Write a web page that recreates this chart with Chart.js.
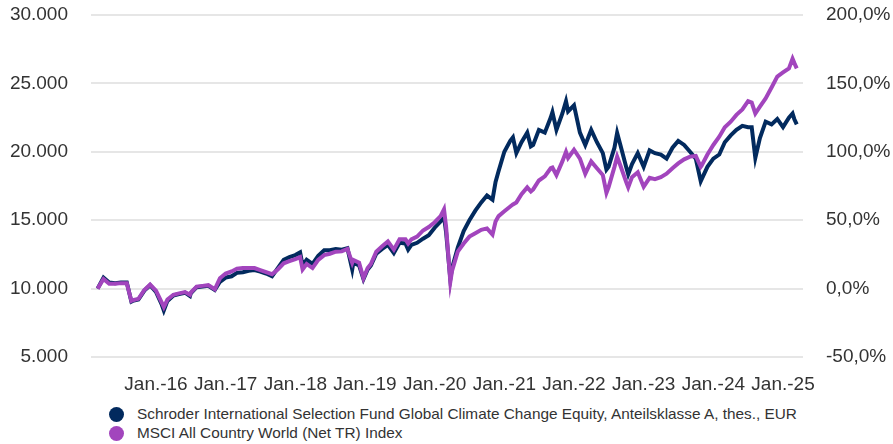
<!DOCTYPE html>
<html>
<head>
<meta charset="utf-8">
<script src="https://cdn.jsdelivr.net/npm/chart.js@4.4.1/dist/chart.umd.min.js"></script>
<style>
    body { margin: 0; background: #fff; font-family: 'Liberation Sans', Arial, sans-serif; }
    .wrap { position: relative; width: 893px; height: 444px; }
    .chart-box { position: absolute; left: 0; top: 0; width: 893px; height: 400px; }
    .legend { position: absolute; left: 109px; top: 404px; font-size: 15.35px; color: #333; }
    .legend div { height: 19px; line-height: 19px; white-space: nowrap; }
    .legend span.dot { display: inline-block; width: 15px; height: 15px; border-radius: 50%; vertical-align: -3px; margin-right: 13px; }
</style>
</head>
<body>
<div class="wrap">
    <div class="chart-box"><canvas id="perfChart"></canvas></div>
    <div class="legend">
        <div><span class="dot" style="background:#022a5e"></span>Schroder International Selection Fund Global Climate Change Equity, Anteilsklasse A, thes., EUR</div>
        <div><span class="dot" style="background:#a245bd"></span>MSCI All Country World (Net TR) Index</div>
    </div>
</div>
<script>
const dates = [
    '2015-03-01','2015-04-01','2015-05-01','2015-06-01','2015-07-01','2015-08-01','2015-08-25','2015-09-01','2015-10-01','2015-11-01','2015-12-01',
    '2016-01-01','2016-02-01','2016-02-11','2016-03-01','2016-04-01','2016-05-01','2016-06-01','2016-06-27','2016-07-01','2016-08-01','2016-09-01','2016-10-01','2016-11-04','2016-12-01',
    '2017-01-01','2017-02-01','2017-03-01','2017-04-01','2017-05-01','2017-06-01','2017-07-01','2017-08-01','2017-09-01','2017-10-01','2017-11-01','2017-12-01',
    '2018-01-01','2018-01-26','2018-02-08','2018-03-01','2018-04-01','2018-05-01','2018-06-01','2018-07-01','2018-08-01','2018-09-01','2018-10-01','2018-10-26','2018-11-01','2018-12-01','2018-12-24',
    '2019-01-15','2019-02-01','2019-03-01','2019-04-01','2019-05-01','2019-06-01','2019-07-01','2019-08-01','2019-08-15','2019-09-01','2019-10-01','2019-11-01','2019-12-01',
    '2020-01-01','2020-02-01','2020-02-19','2020-03-01','2020-03-23','2020-04-01','2020-05-01','2020-06-01','2020-07-01','2020-08-01','2020-09-01','2020-10-01','2020-10-30','2020-11-15','2020-12-01',
    '2021-01-01','2021-02-01','2021-02-15','2021-03-05','2021-04-01','2021-05-01','2021-05-20','2021-06-01','2021-07-01','2021-08-01','2021-09-01','2021-09-10','2021-10-01','2021-11-01','2021-11-20','2021-12-01',
    '2022-01-01','2022-02-01','2022-03-01','2022-04-01','2022-05-01','2022-06-01','2022-06-20','2022-07-01','2022-08-01','2022-08-15','2022-09-01','2022-10-01','2022-10-12','2022-11-01','2022-12-01',
    '2023-01-01','2023-02-01','2023-03-01','2023-04-01','2023-05-01','2023-06-01','2023-07-01','2023-08-01','2023-09-01','2023-10-01','2023-10-27','2023-11-01','2023-12-01',
    '2024-01-01','2024-02-01','2024-03-01','2024-04-01','2024-05-01','2024-06-01','2024-07-01','2024-07-20','2024-08-08','2024-09-01','2024-10-01','2024-11-01','2024-12-01',
    '2025-01-01','2025-02-01','2025-02-20','2025-03-01','2025-03-14'
];

// Schroder ISF Global Climate Change Equity A acc EUR (growth of 10.000)
const fundValues = [
    10000,10800,10450,10400,10450,10450,9050,9100,9200,9850,10250,
    9750,8800,8400,9100,9500,9600,9700,9450,9650,10100,10150,10200,9900,10500,
    10800,10900,11150,11200,11300,11350,11250,11100,10900,11500,12100,12300,
    12450,12650,11700,12100,11800,12400,12800,12800,12900,12850,12950,11400,11900,11700,10700,
    11400,11700,12550,12900,13200,12600,13350,13300,12850,13200,13350,13650,13900,
    14450,14900,15250,14100,10700,11500,13000,14200,15000,15700,16300,16800,16500,17800,18600,
    20000,20800,21050,19900,20700,21400,20400,20500,21600,21400,22500,22900,21600,22800,23700,22950,
    23400,21400,20500,21600,20700,19900,18700,18900,20300,21380,20500,18900,18350,19100,19900,
    18900,20100,19900,19800,19500,20300,20800,20500,20000,19500,17850,18000,18900,
    19500,19800,20700,21200,21600,21900,21800,21800,19550,21000,22200,22000,22400,
    21800,22500,22800,22400,22000
];

// MSCI All Country World (Net TR) Index
const indexValues = [
    10000,10700,10350,10350,10400,10400,9100,9150,9250,9900,10300,
    9850,8950,8650,9200,9550,9650,9750,9550,9700,10150,10200,10250,9950,10750,
    11100,11250,11450,11500,11500,11500,11350,11200,11050,11400,11850,12000,
    12150,12300,11400,11800,11500,12100,12450,12550,12700,12720,12900,11880,12100,11900,10760,
    11500,11800,12700,13100,13450,12850,13600,13600,13300,13600,13800,14250,14500,
    14850,15300,15800,14500,10500,11300,12700,13300,13800,14050,14300,14400,13950,14900,15300,
    15650,16000,16150,16300,16900,17400,17100,17250,17900,18200,18800,18850,18300,19300,20000,19550,
    20150,19500,18400,19300,18800,18300,17000,17400,18900,19650,19000,17800,17400,18150,18500,
    17450,18100,18000,18150,18400,18800,19150,19450,19650,19700,18900,19000,19800,
    20500,21100,21800,22200,22700,23100,23700,23600,22800,23300,23900,24700,25500,
    25800,26100,26800,26500,26100
];

const yearTicks = [2016, 2017, 2018, 2019, 2020, 2021, 2022, 2023, 2024, 2025];

const NAVY   = '#022a5e';
const PURPLE = '#a245bd';
const TEXT   = '#333333';
const GRID   = '#e6e6e6';

function toYear(s) {
    const [y, m, d] = s.split('-').map(Number);
    const start = Date.UTC(y, 0, 1);
    const days = (Date.UTC(y, m - 1, d) - start) / 86400000;
    return y + days / 365;
}

function thousands(v) {
    return String(v).replace(/\B(?=(\d{3})+(?!\d))/g, '.');
}

// fixed axis sizes, and no extra label padding above/below the plot
function fixWidth(w) {
    return axis => {
        axis.width = w;
        axis.paddingTop = 0;
        axis.paddingBottom = 0;
    };
}

Chart.defaults.font.family = "'Liberation Sans', Arial, sans-serif";
Chart.defaults.font.size = 19;
Chart.defaults.color = TEXT;

new Chart(document.getElementById('perfChart'), {
    type: 'line',
    data: {
        datasets: [
            {
                label: 'Schroder International Selection Fund Global Climate Change Equity, Anteilsklasse A, thes., EUR',
                data: dates.map((d, i) => ({ x: toYear(d), y: fundValues[i] })),
                borderColor: NAVY,
                borderWidth: 4,
                pointRadius: 0,
                yAxisID: 'y',
                order: 1
            },
            {
                label: 'MSCI All Country World (Net TR) Index',
                data: dates.map((d, i) => ({ x: toYear(d), y: indexValues[i] })),
                borderColor: PURPLE,
                borderWidth: 4,
                pointRadius: 0,
                yAxisID: 'y',
                order: 0
            }
        ]
    },
    options: {
        responsive: true,
        maintainAspectRatio: false,
        animation: false,
        layout: { padding: { top: 15, left: 0, right: 0, bottom: 0 } },
        plugins: {
            legend: { display: false },
            tooltip: { enabled: false }
        },
        scales: {
            x: {
                type: 'linear',
                min: 2015.067,
                max: 2025.287,
                grid: { display: false },
                border: { display: false },
                afterBuildTicks: axis => { axis.ticks = yearTicks.map(v => ({ value: v })); },
                afterFit: axis => { axis.height = 43; },
                ticks: {
                    autoSkip: false,
                    maxRotation: 0,
                    padding: 8,
                    callback: v => 'Jan.-' + String(v).slice(2)
                }
            },
            y: {
                position: 'left',
                min: 5000,
                max: 30000,
                grid: { color: GRID, lineWidth: 2, drawTicks: false },
                border: { display: false },
                afterFit: fixWidth(91),
                ticks: { stepSize: 5000, padding: 23, callback: v => thousands(v) }
            },
            y1: {
                position: 'right',
                min: -50,
                max: 200,
                grid: { display: false, drawTicks: false },
                border: { display: false },
                afterFit: fixWidth(90),
                ticks: { stepSize: 50, padding: 23, callback: v => v.toFixed(1).replace('.', ',') + '%' }
            }
        }
    }
});
</script>
</body>
</html>
